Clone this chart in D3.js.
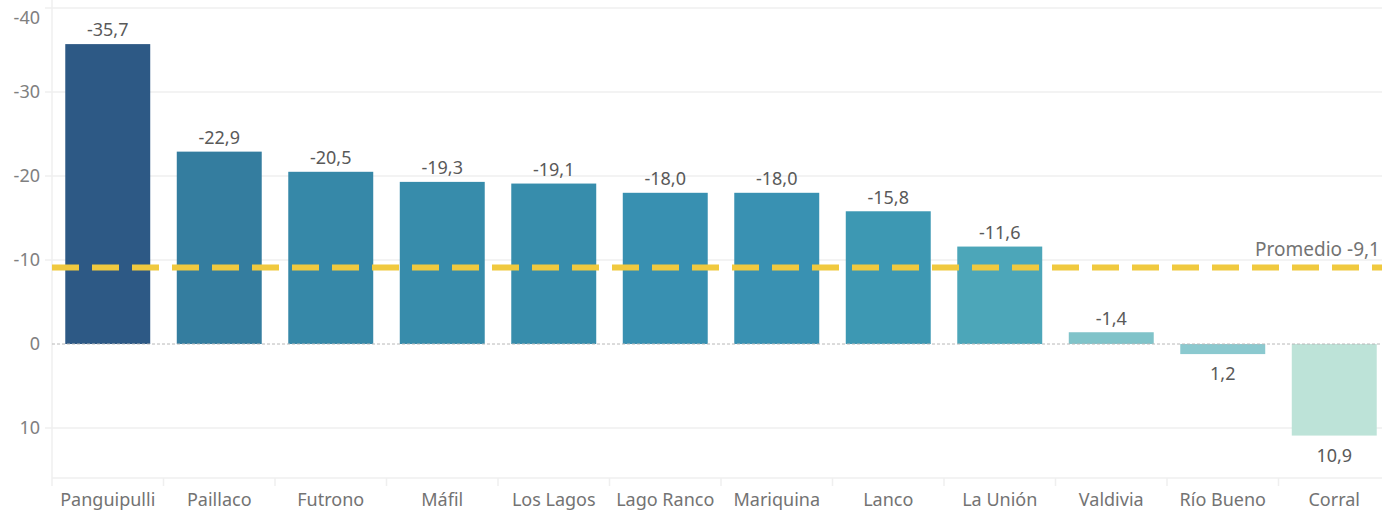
<!DOCTYPE html>
<html>
<head>
<meta charset="utf-8">
<script src="https://cdn.jsdelivr.net/npm/d3@7"></script>
<style>
  body { margin: 0; background: #fff; }
  svg { display: block; font-family: "Noto Sans", Lato, sans-serif; }
</style>
</head>
<body>
<div id="chart"></div>
<script>
// Data
var comunas = ["Panguipulli", "Paillaco", "Futrono", "Máfil", "Los Lagos", "Lago Ranco",
               "Mariquina", "Lanco", "La Unión", "Valdivia", "Río Bueno", "Corral"];
var valores = [-35.7, -22.9, -20.5, -19.3, -19.1, -18.0, -18.0, -15.8, -11.6, -1.4, 1.2, 10.9];
var colores = ["#2d5985", "#347d9f", "#3688a8", "#378cab", "#378dac", "#3890b1",
               "#3991b2", "#3d98b3", "#4ca6b9", "#80c3c9", "#8bc9cf", "#bde3d8"];
var yTicks = [-40, -30, -20, -10, 0, 10];
var promedio = -9.1;

var W = 1382, H = 512;
var margin = {top: 0, right: 0, bottom: 34, left: 52};
var width = W - margin.left - margin.right;
var height = H - margin.top - margin.bottom;
var plotW = 1338; // last band runs past the window edge

var svg = d3.select("#chart").append("svg")
    .attr("width", W)
    .attr("height", H);

var g = svg.append("g").attr("transform", "translate(" + margin.left + "," + margin.top + ")");

var x = d3.scaleBand().domain(comunas).range([0, plotW]).paddingInner(0.238).paddingOuter(0.119);
var y = d3.scaleLinear().domain([-40.95, 15.95]).range([0, height]);

var fmt = function(v) { return d3.format(".1f")(v).replace(".", ",").replace("−", "-"); };

// gridlines
g.selectAll(".grid").data(yTicks).enter().append("line")
    .attr("x1", -7).attr("x2", width)
    .attr("y1", function(d) { return y(d); })
    .attr("y2", function(d) { return y(d); })
    .attr("stroke", d => d === 0 ? "none" : "#efefef")
    .attr("stroke-width", 1.5);

// left axis line
g.append("line").attr("x1", 0).attr("x2", 0).attr("y1", 0).attr("y2", height)
    .attr("stroke", "#efefef").attr("stroke-width", 1.5);
// bottom axis line
g.append("line").attr("x1", 0).attr("x2", width).attr("y1", height).attr("y2", height)
    .attr("stroke", "#efefef").attr("stroke-width", 1.5);

// y tick labels
g.selectAll(".ytick").data(yTicks).enter().append("text")
    .attr("x", -12)
    .attr("y", function(d) { return d === -40 ? y(d) + 10 : y(d); })
    .attr("dy", "0.35em")
    .attr("text-anchor", "end")
    .attr("fill", "#808080")
    .style("font-size", "18px")
    .text(function(d) { return d3.format("d")(d).replace("−", "-"); });

// category dividers
var step = x.step();
g.selectAll(".div").data(d3.range(comunas.length + 1)).enter().append("line")
    .attr("x1", function(i) { return i * step; })
    .attr("x2", function(i) { return i * step; })
    .attr("y1", height).attr("y2", height + 8)
    .attr("stroke", "#efefef").attr("stroke-width", 1.5);

// category labels
g.selectAll(".xlab").data(comunas).enter().append("text")
    .attr("x", function(d) { return x(d) + x.bandwidth() / 2; })
    .attr("y", height + 22)
    .attr("dy", "0.35em")
    .attr("text-anchor", "middle")
    .attr("fill", "#737373")
    .style("font-size", "18px")
    .text(function(d) { return d; });

// bars
g.selectAll(".bar").data(valores).enter().append("rect")
    .attr("x", function(d, i) { return x(comunas[i]); })
    .attr("y", function(d) { return Math.min(y(d), y(0)); })
    .attr("width", x.bandwidth())
    .attr("height", function(d) { return Math.abs(y(d) - y(0)); })
    .attr("fill", function(d, i) { return colores[i]; });

// zero line
g.append("line").attr("x1", 0).attr("x2", width).attr("y1", y(0)).attr("y2", y(0))
    .attr("stroke", "#b8b8b8").attr("stroke-width", 1).attr("stroke-dasharray", "3,2");

// value labels
g.selectAll(".vlab").data(valores).enter().append("text")
    .attr("x", function(d, i) { return x(comunas[i]) + x.bandwidth() / 2; })
    .attr("y", function(d) { return d < 0 ? y(d) - 14 : y(d) + 20; })
    .attr("dy", "0.35em")
    .attr("text-anchor", "middle")
    .attr("fill", "#595959")
    .style("font-size", "18px")
    .text(fmt);

// average line
g.append("line").attr("x1", 0).attr("x2", width)
    .attr("y1", y(promedio)).attr("y2", y(promedio))
    .attr("stroke", "#f0c93f").attr("stroke-width", 6)
    .attr("stroke-dasharray", "27,13");

g.append("text")
    .attr("x", width - 2)
    .attr("y", y(promedio) - 18)
    .attr("dy", "0.35em")
    .attr("text-anchor", "end")
    .attr("fill", "#737373")
    .style("font-size", "19px")
    .text("Promedio " + fmt(promedio));
</script>
</body>
</html>
